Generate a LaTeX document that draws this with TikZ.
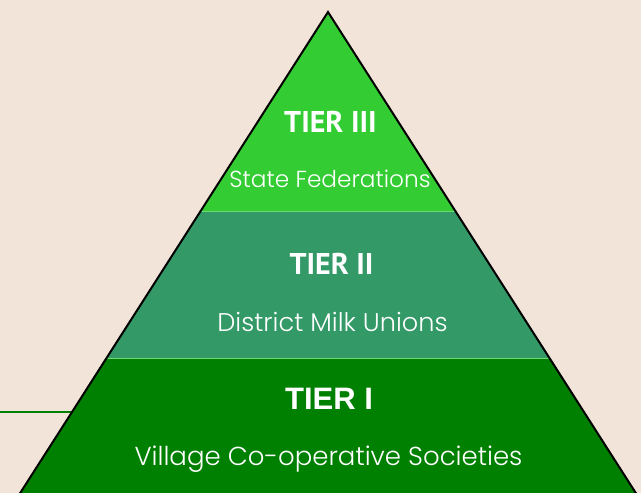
\documentclass[tikz,border=0pt]{standalone}
\usepackage{fontspec}
\newfontfamily\lightfont{Poppins}[UprightFont=* Light]
\newfontfamily\tierfont{PT Sans}[BoldFont=* Bold]
\newfontfamily\arialfont{Liberation Sans}
\definecolor{bgcol}{HTML}{F2E4D8}
\definecolor{topcol}{HTML}{33CC33}
\definecolor{midcol}{HTML}{339966}
\definecolor{botcol}{HTML}{008000}
\definecolor{sepcol}{HTML}{70D870}
\tikzset{
  tiertxt/.style={text=white, inner sep=0pt, anchor=center},
  subtxt/.style={text=white, inner sep=0pt, anchor=base},
  edge/.style={draw=black, line width=2pt, line cap=round},
  sep/.style={draw=sepcol, line width=0.8pt}
}
\begin{document}
\begin{tikzpicture}[x=1pt,y=-1pt]
\fill[bgcol] (0,0) rectangle (641,493);
\useasboundingbox (0,0) rectangle (641,493);
\coordinate (apex) at (328,12);
\coordinate (l1) at (200.6,211);
\coordinate (r1) at (455.4,211);
\coordinate (l2) at (105.6,358);
\coordinate (r2) at (550.4,358);
\coordinate (lb) at (15.7,500);
\coordinate (rb) at (640.3,500);
\coordinate (lineL) at (0,412);
\coordinate (lineR) at (72,412);
\begin{scope}
\clip (0,0) rectangle (641,493);
\fill[topcol] (apex) -- (l1) -- (r1) -- cycle;
\fill[midcol] (l1) -- (r1) -- (r2) -- (l2) -- cycle;
\fill[botcol] (l2) -- (r2) -- (rb) -- (lb) -- cycle;
\draw[sep] (l1) -- (r1);
\draw[sep] (l2) -- (r2);
\draw[botcol, line width=2pt] (lineL) -- (lineR);
\draw[edge] (lb) -- (apex) -- (rb);
\end{scope}
\node[tiertxt, font={\tierfont\bfseries\fontsize{30}{30}\selectfont}] (t3) at (330.5,122) {TIER III};
\node[subtxt, font={\lightfont\fontsize{23.2}{23.2}\selectfont}] (s3) at (330,187) {State Federations};
\node[tiertxt, font={\tierfont\bfseries\fontsize{30}{30}\selectfont}] (t2) at (331.5,264) {TIER II};
\node[subtxt, font={\lightfont\fontsize{25.6}{25.6}\selectfont}] (s2) at (332.5,331) {District Milk Unions};
\node[tiertxt, font={\arialfont\bfseries\fontsize{31}{31}\selectfont}] (t1) at (329,398.5) {TIER I};
\node[subtxt, font={\lightfont\fontsize{26}{26}\selectfont}] (s1) at (328.5,465) {Village Co-operative Societies};
\end{tikzpicture}
\end{document}
